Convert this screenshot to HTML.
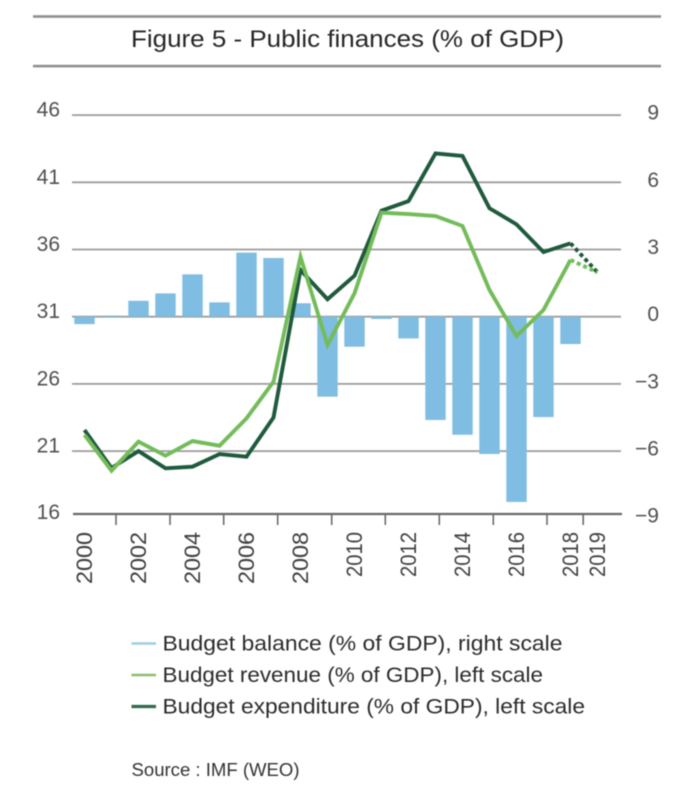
<!DOCTYPE html>
<html>
<head>
<meta charset="utf-8">
<title>Figure 5 - Public finances (% of GDP)</title>
<style>
html,body{margin:0;padding:0;background:#fff;}
body{width:678px;height:790px;overflow:hidden;}
svg{display:block;font-family:"Liberation Sans",sans-serif;filter:blur(0.4px);}
</style>
</head>
<body>
<svg id="chart" width="678" height="790" viewBox="0 0 678 790">
  <rect x="33" y="15.2" width="628" height="2.6" fill="#8f8f8f"/>
  <rect x="33" y="64.8" width="628" height="2.6" fill="#8f8f8f"/>
  <text x="131" y="47" font-size="24" fill="#262626" textLength="433" lengthAdjust="spacingAndGlyphs">Figure 5 - Public finances (% of GDP)</text>
  <g id="grid"></g>
  <g id="bars"></g>
  <g id="lines"></g>
  <g id="axes"></g>
  <g>
    <g>
      <line x1="131.5" x2="156" y1="643.5" y2="643.5" stroke="#9fcbe6" stroke-width="2.6"/>
      <text x="162.5" y="650.5" font-size="21" fill="#2b2b2b" textLength="400" lengthAdjust="spacingAndGlyphs">Budget balance (% of GDP), right scale</text>
    </g>
    <g>
      <line x1="131.5" x2="156" y1="675" y2="675" stroke="#8cbd72" stroke-width="2.6"/>
      <text x="162.5" y="682" font-size="21" fill="#2b2b2b" textLength="380.5" lengthAdjust="spacingAndGlyphs">Budget revenue (% of GDP), left scale</text>
    </g>
    <g>
      <line x1="131.5" x2="156" y1="706.5" y2="706.5" stroke="#2f6b4c" stroke-width="3.2"/>
      <text x="162.5" y="713.5" font-size="21" fill="#2b2b2b" textLength="422.5" lengthAdjust="spacingAndGlyphs">Budget expenditure (% of GDP), left scale</text>
    </g>
  </g>
  <text x="131.5" y="776" font-size="18" fill="#333" textLength="168" lengthAdjust="spacingAndGlyphs">Source : IMF (WEO)</text>
</svg>
<script>
var years = [2000,2001,2002,2003,2004,2005,2006,2007,2008,2009,2010,2011,2012,2013,2014,2015,2016,2017,2018,2019];
var balance = [-0.33,0.05,0.71,1.04,1.89,0.64,2.86,2.62,0.6,-3.57,-1.34,-0.1,-0.97,-4.61,-5.27,-6.13,-8.27,-4.48,-1.22];
var revenue = [22.2,19.54,21.7,20.66,21.75,21.4,23.44,26.16,35.46,28.9,32.74,38.74,38.64,38.49,37.75,32.99,29.56,31.5,35.22,34.3];
var expenditure = [22.57,19.74,21.0,19.72,19.84,20.78,20.58,23.5,34.47,32.3,34.05,38.89,39.6,43.15,42.96,39.07,37.87,35.81,36.46,34.3];
var leftTicks = [46,41,36,31,26,21,16];
var rightTicks = [9,6,3,0,-3,-6,-9];
var yearLabels = [2000,2002,2004,2006,2008,2010,2012,2014,2016,2018,2019];
var xTicks = [2001.167,2003.167,2005.155,2007.155,2009.155,2011.14,2013.14,2015.14,2017.13,2018.47];

var NS = 'http://www.w3.org/2000/svg';
function xAt(year){ return 84.5 + (year - 2000) * 27; }
function yLeft(v){ return 316.7 - (v - 31) * 13.44; }
function yRight(v){ return 316.7 - v * 22.4; }
var AXIS_Y = 514;
function make(tag, attrs, parent){
  var el = document.createElementNS(NS, tag);
  for (var k in attrs) el.setAttribute(k, attrs[k]);
  parent.appendChild(el);
  return el;
}
var grid = document.getElementById('grid');
var bars = document.getElementById('bars');
var lines = document.getElementById('lines');
var axes = document.getElementById('axes');

leftTicks.forEach(function(t){
  var y = yLeft(t);
  if (y < AXIS_Y - 5) {
    var g = make('line', {x1:72, x2:621, y1:y, y2:y, stroke:'#9c9c9c', 'stroke-width':1.8}, grid);
    
    
  }
  var lab = make('text', {x:60, y:Math.min(y, AXIS_Y) + (y >= AXIS_Y ? 5 : 1.5), 'text-anchor':'end', 'font-size':21, fill:'#4f5052'}, axes);
  lab.textContent = t;
  
  
});
rightTicks.forEach(function(t){
  var y = Math.min(yRight(t), AXIS_Y);
  var lab = make('text', {x:659, y:y + (y >= AXIS_Y ? 8.5 : 4.5), 'text-anchor':'end', 'font-size':21, fill:'#4f5052'}, axes);
  lab.textContent = String(t).replace('-', '\u2212');
  
  
});

balance.forEach(function(v, i){
  var y0 = yRight(0), y1 = yRight(v);
  var b = make('rect', {x:xAt(years[i]) - 10.2, y:Math.min(y0, y1), width:20.4, height:Math.abs(y1 - y0), fill:'#7fbde2'}, bars);
  
  
});

function drawSeries(values, color, name){
  var n = values.length;
  var solid = '';
  for (var i = 0; i < n - 1; i++) solid += (i ? ' ' : '') + xAt(years[i]) + ',' + yLeft(values[i]);
  var p = make('polyline', {points:solid, fill:'none', stroke:color, 'stroke-width':3.9, 'stroke-linejoin':'miter'}, lines);
  
  
  var d = make('line', {x1:xAt(years[n-2]), y1:yLeft(values[n-2]), x2:xAt(years[n-1]), y2:yLeft(values[n-1]), stroke:color, 'stroke-width':3.9, 'stroke-dasharray':'4 3'}, lines);
  
  
}
drawSeries(expenditure, '#1f5a3c', 'expenditure');
drawSeries(revenue, '#74bb5a', 'revenue');

var baseAxis = make('line', {x1:73, x2:622, y1:AXIS_Y, y2:AXIS_Y, stroke:'#6a6a6a', 'stroke-width':2.2}, axes);


xTicks.forEach(function(t){
  var x = xAt(t);
  var k = make('line', {x1:x, x2:x, y1:AXIS_Y, y2:AXIS_Y + 11, stroke:'#6a6a6a', 'stroke-width':1.6}, axes);
  
  
});
yearLabels.forEach(function(yr){
  var bx = xAt(yr) + 7.5;
  var by = yr < 2010 ? 584 : 577;
  var len = yr < 2010 ? 52 : 45;
  var t = make('text', {transform:'translate(' + bx + ' ' + by + ') rotate(-90)', 'font-size':22, fill:'#3f3f3f', textLength:len, lengthAdjust:'spacingAndGlyphs'}, axes);
  t.textContent = yr;
  
  
});
</script>
</body>
</html>
